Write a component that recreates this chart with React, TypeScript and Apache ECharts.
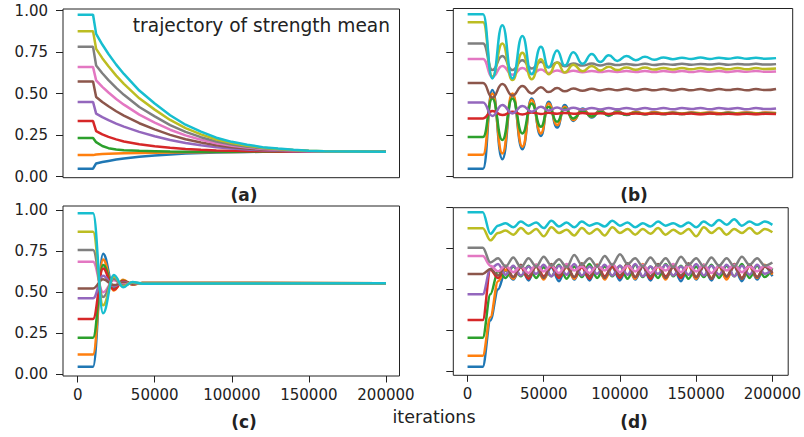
import React, { useEffect, useRef } from "react";
import * as echarts from "echarts";

// ---------- data ----------
const COLORS = ["#1f77b4", "#ff7f0e", "#2ca02c", "#d62728", "#9467bd", "#8c564b", "#e377c2", "#7f7f7f", "#bcbd22", "#17becf"];
const xTicks = [0, 50000, 100000, 150000, 200000];
const yTicks = [0, 0.25, 0.5, 0.75, 1.0];
const panelLabels = ["(a)", "(b)", "(c)", "(d)"];
const titleText = "trajectory of strength mean";
const xAxisName = "iterations";

// panel (a)
const aT = [0, 10000, 12000, 16000, 20000, 25000, 30000, 40000, 50000, 60000, 70000, 80000, 90000, 100000, 110000, 120000, 130000, 140000, 150000, 160000, 200000];
const aBlue = [0.048, 0.048, 0.08, 0.088, 0.095, 0.103, 0.11, 0.12, 0.128, 0.134, 0.139, 0.143, 0.146, 0.148, 0.149, 0.15, 0.15, 0.15, 0.15, 0.15, 0.15];
const aOrange = [0.13, 0.13, 0.134, 0.136, 0.138, 0.14, 0.141, 0.143, 0.145, 0.146, 0.147, 0.148, 0.149, 0.149, 0.15, 0.15, 0.15, 0.15, 0.15, 0.15, 0.15];
const aGreen = [0.233, 0.233, 0.208, 0.185, 0.172, 0.164, 0.16, 0.156, 0.154, 0.152, 0.151, 0.15, 0.15, 0.15, 0.15, 0.15, 0.15, 0.15, 0.15, 0.15, 0.15];
const aRed = [0.335, 0.335, 0.275, 0.255, 0.24, 0.225, 0.212, 0.195, 0.183, 0.174, 0.167, 0.162, 0.158, 0.156, 0.154, 0.153, 0.152, 0.151, 0.15, 0.15, 0.15];
const aPurple = [0.45, 0.45, 0.38, 0.359, 0.341, 0.32, 0.302, 0.27, 0.244, 0.221, 0.203, 0.189, 0.178, 0.17, 0.164, 0.159, 0.156, 0.154, 0.152, 0.151, 0.15];
const aBrown = [0.574, 0.574, 0.48, 0.45, 0.424, 0.394, 0.368, 0.322, 0.285, 0.252, 0.226, 0.206, 0.19, 0.178, 0.17, 0.163, 0.159, 0.156, 0.153, 0.152, 0.15];
const aPink = [0.66, 0.66, 0.58, 0.541, 0.507, 0.468, 0.434, 0.374, 0.326, 0.283, 0.249, 0.223, 0.202, 0.187, 0.176, 0.167, 0.162, 0.158, 0.154, 0.152, 0.15];
const aGray = [0.782, 0.782, 0.67, 0.623, 0.582, 0.535, 0.493, 0.42, 0.363, 0.311, 0.27, 0.238, 0.212, 0.194, 0.181, 0.171, 0.165, 0.159, 0.155, 0.153, 0.15];
const aOlive = [0.876, 0.876, 0.77, 0.714, 0.665, 0.609, 0.559, 0.472, 0.404, 0.342, 0.293, 0.255, 0.224, 0.203, 0.187, 0.175, 0.167, 0.161, 0.156, 0.153, 0.15];
const aCyan = [0.975, 0.975, 0.86, 0.796, 0.739, 0.675, 0.619, 0.519, 0.441, 0.37, 0.313, 0.271, 0.235, 0.21, 0.193, 0.178, 0.17, 0.163, 0.157, 0.154, 0.15];

// panel (b)
const bT = [0, 10000, 16000, 22500, 29000, 35500, 41500, 47500, 52500, 58000, 63000, 68500, 74500, 80500, 86000, 91500, 97000, 103000, 109000, 115000, 121000, 127000, 133000, 139000, 145000, 151000, 157000, 163000, 169000, 175000, 181000, 187000, 193000, 200000];
const bBlue = [0.048, 0.048, 0.52, 0.105, 0.49, 0.165, 0.47, 0.245, 0.45, 0.295, 0.43, 0.335, 0.41, 0.355, 0.40, 0.365, 0.395, 0.37, 0.39, 0.375, 0.388, 0.376, 0.386, 0.377, 0.386, 0.378, 0.385, 0.378, 0.385, 0.379, 0.385, 0.379, 0.384, 0.381];
const bOrange = [0.132, 0.132, 0.50, 0.14, 0.50, 0.18, 0.46, 0.26, 0.44, 0.31, 0.42, 0.34, 0.405, 0.36, 0.395, 0.37, 0.39, 0.375, 0.388, 0.378, 0.387, 0.38, 0.386, 0.38, 0.386, 0.381, 0.386, 0.381, 0.385, 0.381, 0.386, 0.381, 0.385, 0.383];
const bGreen = [0.239, 0.239, 0.47, 0.22, 0.47, 0.26, 0.44, 0.30, 0.42, 0.33, 0.41, 0.35, 0.395, 0.362, 0.39, 0.37, 0.386, 0.373, 0.384, 0.375, 0.383, 0.376, 0.382, 0.376, 0.382, 0.377, 0.381, 0.376, 0.382, 0.377, 0.381, 0.377, 0.381, 0.378];
const bRed = [0.35, 0.35, 0.395, 0.37, 0.39, 0.374, 0.386, 0.377, 0.384, 0.378, 0.383, 0.378, 0.382, 0.378, 0.381, 0.377, 0.381, 0.377, 0.38, 0.376, 0.38, 0.376, 0.379, 0.376, 0.379, 0.375, 0.379, 0.376, 0.378, 0.375, 0.378, 0.375, 0.378, 0.376];
const bPurple = [0.446, 0.446, 0.365, 0.43, 0.38, 0.425, 0.39, 0.42, 0.397, 0.416, 0.40, 0.414, 0.402, 0.413, 0.404, 0.412, 0.405, 0.413, 0.404, 0.412, 0.405, 0.413, 0.405, 0.412, 0.406, 0.413, 0.405, 0.412, 0.406, 0.412, 0.405, 0.413, 0.406, 0.41];
const bBrown = [0.562, 0.562, 0.475, 0.556, 0.487, 0.545, 0.50, 0.537, 0.508, 0.532, 0.513, 0.529, 0.516, 0.528, 0.518, 0.527, 0.519, 0.528, 0.518, 0.526, 0.519, 0.527, 0.518, 0.526, 0.519, 0.527, 0.518, 0.526, 0.52, 0.527, 0.519, 0.526, 0.52, 0.527];
const bPink = [0.707, 0.707, 0.60, 0.665, 0.612, 0.652, 0.618, 0.643, 0.622, 0.638, 0.625, 0.636, 0.627, 0.635, 0.628, 0.634, 0.629, 0.634, 0.629, 0.635, 0.628, 0.634, 0.629, 0.635, 0.628, 0.634, 0.63, 0.635, 0.629, 0.634, 0.63, 0.635, 0.63, 0.632];
const bGray = [0.80, 0.80, 0.64, 0.725, 0.64, 0.70, 0.65, 0.69, 0.658, 0.685, 0.663, 0.68, 0.667, 0.679, 0.668, 0.678, 0.67, 0.677, 0.671, 0.678, 0.671, 0.677, 0.672, 0.678, 0.672, 0.677, 0.673, 0.678, 0.672, 0.677, 0.673, 0.678, 0.673, 0.676];
const bOlive = [0.928, 0.928, 0.60, 0.80, 0.58, 0.745, 0.585, 0.705, 0.615, 0.685, 0.625, 0.672, 0.633, 0.665, 0.638, 0.66, 0.64, 0.656, 0.642, 0.655, 0.643, 0.653, 0.644, 0.652, 0.645, 0.653, 0.644, 0.652, 0.645, 0.653, 0.645, 0.652, 0.646, 0.649];
const bCyan = [0.975, 0.975, 0.59, 0.91, 0.59, 0.845, 0.615, 0.78, 0.655, 0.758, 0.667, 0.748, 0.678, 0.737, 0.688, 0.73, 0.695, 0.725, 0.70, 0.72, 0.703, 0.716, 0.706, 0.714, 0.707, 0.716, 0.707, 0.714, 0.708, 0.716, 0.708, 0.714, 0.709, 0.712];

// panel (c)
const cT = [0, 10000, 16500, 23500, 29500, 35500, 42000, 200000];
const cBlue = [0.045, 0.045, 0.735, 0.52, 0.57, 0.548, 0.555, 0.554];
const cOrange = [0.12, 0.12, 0.70, 0.51, 0.575, 0.545, 0.556, 0.554];
const cGreen = [0.222, 0.222, 0.665, 0.525, 0.57, 0.55, 0.556, 0.554];
const cRed = [0.336, 0.336, 0.645, 0.515, 0.568, 0.548, 0.556, 0.554];
const cPurple = [0.462, 0.462, 0.60, 0.535, 0.562, 0.55, 0.555, 0.554];
const cBrown = [0.523, 0.523, 0.578, 0.543, 0.559, 0.551, 0.555, 0.554];
const cPink = [0.686, 0.686, 0.50, 0.572, 0.545, 0.557, 0.553, 0.554];
const cGray = [0.757, 0.757, 0.47, 0.582, 0.54, 0.558, 0.553, 0.554];
const cOlive = [0.869, 0.869, 0.42, 0.595, 0.535, 0.56, 0.552, 0.554];
const cCyan = [0.982, 0.982, 0.371, 0.605, 0.53, 0.562, 0.552, 0.554];

// panel (d)
const dT = [0, 10000, 15000, 20000, 25000, 30000, 35000, 40000, 45000, 50000, 55000, 60000, 65000, 70000, 75000, 80000, 85000, 90000, 95000, 100000, 105000, 110000, 115000, 120000, 125000, 130000, 135000, 140000, 145000, 150000, 155000, 160000, 165000, 170000, 175000, 180000, 185000, 190000, 195000, 200000];
const dBlue = [0.026, 0.026, 0.31, 0.50, 0.615, 0.56, 0.64, 0.555, 0.645, 0.565, 0.635, 0.55, 0.65, 0.56, 0.64, 0.555, 0.645, 0.565, 0.635, 0.555, 0.65, 0.56, 0.64, 0.555, 0.645, 0.565, 0.64, 0.55, 0.65, 0.56, 0.64, 0.555, 0.645, 0.565, 0.64, 0.55, 0.645, 0.56, 0.64, 0.58];
const dOrange = [0.094, 0.094, 0.33, 0.55, 0.62, 0.565, 0.645, 0.57, 0.64, 0.56, 0.65, 0.575, 0.635, 0.565, 0.645, 0.57, 0.65, 0.56, 0.64, 0.575, 0.645, 0.565, 0.655, 0.57, 0.64, 0.56, 0.65, 0.575, 0.645, 0.565, 0.65, 0.57, 0.64, 0.56, 0.655, 0.565, 0.64, 0.57, 0.65, 0.59];
const dGreen = [0.204, 0.204, 0.47, 0.61, 0.57, 0.64, 0.58, 0.645, 0.57, 0.635, 0.58, 0.65, 0.565, 0.64, 0.575, 0.655, 0.57, 0.64, 0.58, 0.645, 0.565, 0.65, 0.575, 0.64, 0.57, 0.655, 0.58, 0.645, 0.565, 0.64, 0.575, 0.65, 0.57, 0.645, 0.58, 0.655, 0.57, 0.645, 0.575, 0.63];
const dRed = [0.312, 0.312, 0.62, 0.57, 0.64, 0.575, 0.635, 0.565, 0.65, 0.58, 0.64, 0.57, 0.645, 0.575, 0.635, 0.565, 0.65, 0.58, 0.64, 0.57, 0.655, 0.575, 0.64, 0.565, 0.645, 0.58, 0.635, 0.57, 0.65, 0.575, 0.64, 0.565, 0.645, 0.58, 0.64, 0.57, 0.65, 0.575, 0.64, 0.60];
const dPurple = [0.47, 0.47, 0.625, 0.655, 0.59, 0.645, 0.585, 0.64, 0.595, 0.65, 0.58, 0.645, 0.59, 0.655, 0.585, 0.64, 0.595, 0.65, 0.585, 0.645, 0.59, 0.655, 0.58, 0.64, 0.595, 0.65, 0.585, 0.64, 0.59, 0.655, 0.585, 0.645, 0.59, 0.65, 0.58, 0.645, 0.59, 0.65, 0.595, 0.62];
const dBrown = [0.594, 0.594, 0.625, 0.585, 0.645, 0.575, 0.65, 0.58, 0.64, 0.57, 0.655, 0.585, 0.64, 0.575, 0.66, 0.58, 0.645, 0.57, 0.65, 0.585, 0.66, 0.575, 0.645, 0.58, 0.655, 0.57, 0.64, 0.585, 0.66, 0.575, 0.65, 0.565, 0.645, 0.58, 0.655, 0.565, 0.65, 0.575, 0.645, 0.60];
const dPink = [0.704, 0.704, 0.645, 0.61, 0.645, 0.605, 0.64, 0.60, 0.65, 0.61, 0.645, 0.60, 0.655, 0.615, 0.64, 0.60, 0.645, 0.615, 0.655, 0.605, 0.645, 0.61, 0.65, 0.60, 0.64, 0.615, 0.655, 0.605, 0.645, 0.61, 0.65, 0.60, 0.645, 0.615, 0.65, 0.605, 0.64, 0.61, 0.645, 0.625];
const dGray = [0.755, 0.755, 0.665, 0.69, 0.64, 0.695, 0.635, 0.69, 0.64, 0.70, 0.645, 0.685, 0.635, 0.71, 0.65, 0.69, 0.64, 0.705, 0.65, 0.715, 0.655, 0.69, 0.64, 0.695, 0.645, 0.69, 0.635, 0.70, 0.65, 0.69, 0.64, 0.695, 0.645, 0.69, 0.64, 0.70, 0.65, 0.69, 0.645, 0.665];
const dOlive = [0.874, 0.874, 0.80, 0.845, 0.86, 0.835, 0.875, 0.84, 0.87, 0.825, 0.88, 0.845, 0.865, 0.83, 0.875, 0.84, 0.87, 0.83, 0.88, 0.845, 0.87, 0.835, 0.87, 0.84, 0.875, 0.835, 0.865, 0.84, 0.87, 0.825, 0.88, 0.845, 0.875, 0.835, 0.87, 0.845, 0.875, 0.84, 0.87, 0.85];
const dCyan = [0.972, 0.972, 0.84, 0.89, 0.905, 0.88, 0.915, 0.89, 0.91, 0.875, 0.92, 0.885, 0.91, 0.88, 0.915, 0.89, 0.905, 0.885, 0.92, 0.89, 0.91, 0.88, 0.905, 0.885, 0.915, 0.89, 0.905, 0.885, 0.91, 0.88, 0.915, 0.89, 0.925, 0.895, 0.93, 0.89, 0.915, 0.895, 0.915, 0.895];

const panelTimes = [aT, bT, cT, dT];
const panelValues = [
  [aBlue, aOrange, aGreen, aRed, aPurple, aBrown, aPink, aGray, aOlive, aCyan],
  [bBlue, bOrange, bGreen, bRed, bPurple, bBrown, bPink, bGray, bOlive, bCyan],
  [cBlue, cOrange, cGreen, cRed, cPurple, cBrown, cPink, cGray, cOlive, cCyan],
  [dBlue, dOrange, dGreen, dRed, dPurple, dBrown, dPink, dGray, dOlive, dCyan],
];

// ---------- layout ----------
const FONT = '"DejaVu Sans", sans-serif';
const TEXT = "#222";
const grids = [
  { left: 63, top: 9, width: 336.5, height: 168.7 },
  { left: 453.3, top: 8.5, width: 339.4, height: 169.2 },
  { left: 63, top: 206, width: 336.5, height: 170 },
  { left: 453.3, top: 207.7, width: 338.7, height: 167.6 },
];
const xRanges = [[-9500, 208800], [-9300, 210800], [-9500, 208800], [-9340, 210380]];
const yRanges = [[-0.006, 1.01], [-0.006, 1.01], [-0.012, 1.026], [-0.026, 1.0]];
const smoothing = [
  { smooth: false, mono: undefined },
  { smooth: 0.5, mono: "x" },
  { smooth: 0.4, mono: "x" },
  { smooth: 0.35, mono: "x" },
];
const labelPos = [[244, 195], [634, 195], [244, 421.5], [634, 421.5]];

export default function App() {
  const ref = useRef<HTMLDivElement>(null);
  useEffect(() => {
    if (!ref.current) return;
    const chart = echarts.init(ref.current, undefined, { renderer: "svg" });
    const xAxis: any[] = [];
    const yAxis: any[] = [];
    const series: any[] = [];
    grids.forEach((g, i) => {
      const bottomRow = i >= 2;
      const leftCol = i % 2 === 0;
      xAxis.push({
        type: "value",
        gridIndex: i,
        min: xRanges[i][0],
        max: xRanges[i][1],
        axisLine: { show: false, onZero: false },
        splitLine: { show: false },
        axisTick: {
          show: bottomRow,
          customValues: xTicks,
          length: 6.5,
          lineStyle: { color: TEXT, width: 1 },
        },
        axisLabel: {
          show: bottomRow,
          customValues: xTicks,
          formatter: (v: number) => String(v),
          fontSize: 15,
          fontFamily: FONT,
          color: TEXT,
          margin: 11,
        },
      });
      yAxis.push({
        type: "value",
        gridIndex: i,
        min: yRanges[i][0],
        max: yRanges[i][1],
        axisLine: { show: false, onZero: false },
        splitLine: { show: false },
        axisTick: {
          show: true,
          customValues: yTicks,
          length: 7,
          lineStyle: { color: TEXT, width: 1 },
        },
        axisLabel: {
          show: leftCol,
          customValues: yTicks,
          formatter: (v: number) => v.toFixed(2),
          fontSize: 15,
          fontFamily: FONT,
          color: TEXT,
          margin: 15,
        },
      });
      const T = panelTimes[i];
      panelValues[i].forEach((vals, j) => {
        series.push({
          type: "line",
          xAxisIndex: i,
          yAxisIndex: i,
          data: T.map((t, k) => [t, vals[k]]),
          showSymbol: false,
          symbol: "none",
          smooth: smoothing[i].smooth,
          smoothMonotone: smoothing[i].mono,
          silent: true,
          lineStyle: { width: 2.5, color: COLORS[j] },
          itemStyle: { color: COLORS[j] },
        });
      });
    });

    const graphic: any[] = [
      {
        type: "text",
        x: 390,
        y: 25,
        style: { text: titleText, fill: TEXT, font: `18.6px ${FONT}`, align: "right", verticalAlign: "middle", textAlign: "right", textVerticalAlign: "middle" },
      },
      {
        type: "text",
        x: 434,
        y: 417,
        style: { text: xAxisName, fill: TEXT, font: `17.5px ${FONT}`, align: "center", verticalAlign: "middle", textAlign: "center", textVerticalAlign: "middle" },
      },
      ...panelLabels.map((t, i) => ({
        type: "text",
        x: labelPos[i][0],
        y: labelPos[i][1],
        style: { text: t, fill: TEXT, font: `bold 17px ${FONT}`, align: "center", verticalAlign: "middle", textAlign: "center", textVerticalAlign: "middle" },
      })),
    ];

    chart.setOption({
      animation: false,
      backgroundColor: "#fff",
      textStyle: { fontFamily: FONT },
      grid: grids.map((g) => ({ ...g, show: true, borderColor: TEXT, borderWidth: 1, backgroundColor: "transparent", containLabel: false })),
      xAxis,
      yAxis,
      series,
      graphic,
    });
    return () => chart.dispose();
  }, []);
  return <div ref={ref} style={{ position: "absolute", left: 0, top: 0, width: 804, height: 437 }} />;
}
